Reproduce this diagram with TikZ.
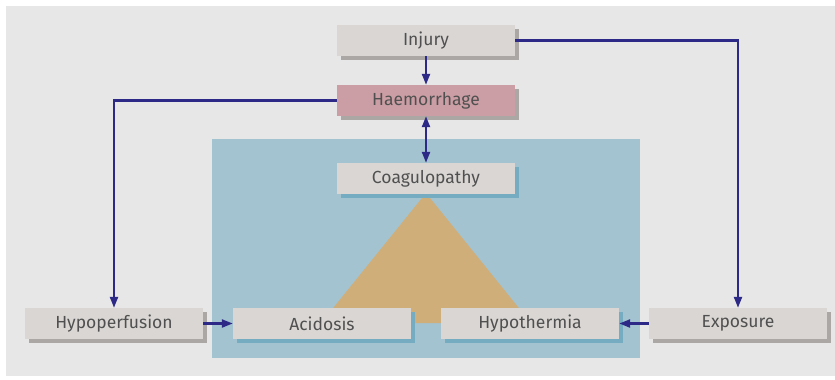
\documentclass[tikz,border=0pt]{standalone}
\usepackage{fontspec}
\setmainfont{Fira Sans}
\usetikzlibrary{arrows.meta}
\definecolor{panelgray}{HTML}{E7E7E7}
\definecolor{panelblue}{HTML}{A3C3D0}
\definecolor{tri}{HTML}{CFAE7A}
\definecolor{boxfill}{HTML}{D9D6D3}
\definecolor{pinkfill}{HTML}{CA9EA4}
\definecolor{shadowgray}{HTML}{ABA7A5}
\definecolor{shadowblue}{HTML}{75ACC2}
\definecolor{navy}{HTML}{2C2A86}
\definecolor{txt}{HTML}{505050}
\tikzset{
  box/.style={draw=none, fill=boxfill, minimum width=178pt, minimum height=31pt,
    inner sep=0pt, text=txt, font=\fontsize{17.5}{20}\selectfont},
  gshadow/.style={fill=shadowgray, draw=none},
  bshadow/.style={fill=shadowblue, draw=none},
  tip/.style={Triangle[length=11pt,width=8pt]},
  conn/.style={draw=navy, line width=2.2pt, -{Triangle[length=11pt,width=8pt]}},
}
\begin{document}
\begin{tikzpicture}[x=1pt,y=-1pt]
\useasboundingbox (0,0) rectangle (835,380);
\fill[white] (0,0) rectangle (835,380);
\fill[panelgray] (6,6) rectangle (835,376);
\fill[panelblue] (212,139) rectangle (640,358);
\fill[tri] (426,193) -- (321,323) -- (531,323) -- cycle;
% shadows
\fill[gshadow] (340.5,28.5) rectangle (518.5,59.5);
\fill[gshadow] (340.5,88.5) rectangle (518.5,119.5);
\fill[bshadow] (340.5,166.5) rectangle (518.5,197.5);
\fill[gshadow] (28.5,311.5) rectangle (206.5,342.5);
\fill[bshadow] (236.5,311.5) rectangle (414.5,342.5);
\fill[bshadow] (444.5,311.5) rectangle (622.5,342.5);
\fill[gshadow] (652.5,311.5) rectangle (830.5,342.5);
% boxes
\node[box] (inj) at (426,40.5) {Injury};
\node[box, fill=pinkfill] (hae) at (426,100.5) {Haemorrhage};
\node[box] (coa) at (426,178.5) {Coagulopathy};
\node[box] (hyp) at (114,323.5) {Hypoperfusion};
\node[box] (aci) at (322,323.5) {Acidosis};
\node[box] (the) at (530,323.5) {Hypothermia};
\node[box] (exp) at (738,323.5) {Exposure};
% connectors
\draw[conn] (inj) -- (hae);
\draw[conn, {Triangle[length=11pt,width=8pt]}-{Triangle[length=11pt,width=8pt]}] (hae) -- (coa);
\draw[conn] (hae.west) -| (hyp.north);
\draw[conn] (inj.east) -| (exp.north);
\draw[conn] (hyp) -- (aci);
\draw[conn] (exp) -- (the);
\end{tikzpicture}
\end{document}
